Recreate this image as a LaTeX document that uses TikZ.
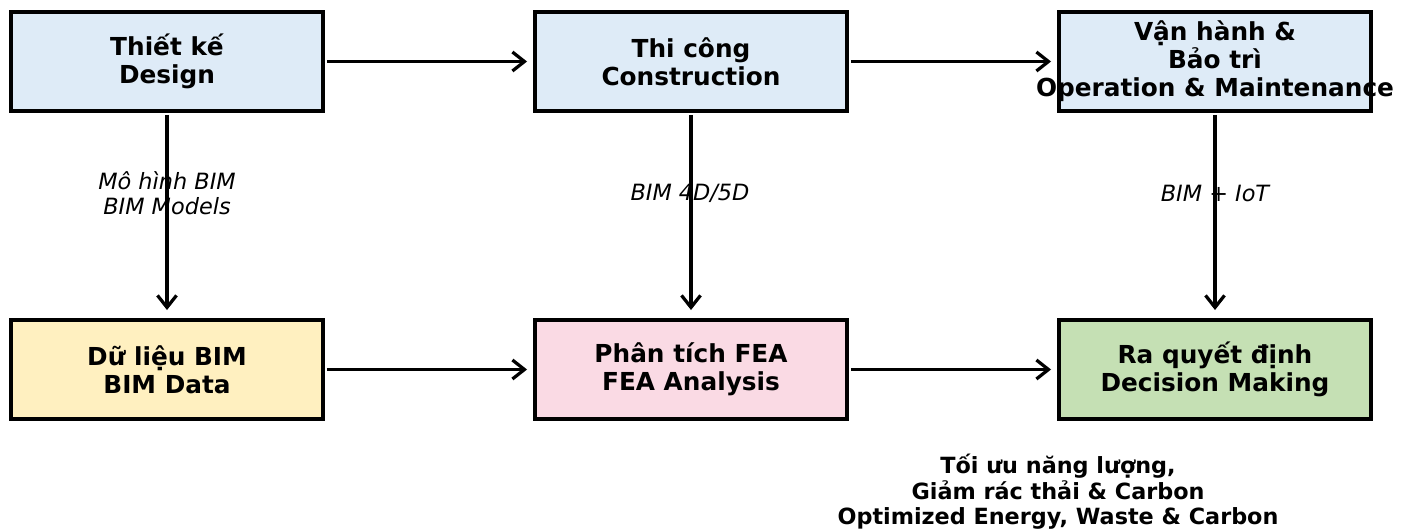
\documentclass[tikz,border=0pt]{standalone}
\usepackage{fontspec}
\setmainfont{DejaVu Sans}
\usetikzlibrary{arrows.meta}
\definecolor{cblue}{HTML}{DEEBF7}
\definecolor{cyellow}{HTML}{FFF0C0}
\definecolor{cpink}{HTML}{FADAE4}
\definecolor{cgreen}{HTML}{C5E0B4}
\tikzset{
  box/.style={draw=black, line width=0.07cm, minimum width=6.25cm, minimum height=1.99cm, inner sep=0pt},
  boxtext/.style={font=\bfseries\fontsize{14.1}{15.9}\selectfont, align=center, inner sep=0pt},
  lbl/.style={font=\itshape\fontsize{12.75}{14.2}\selectfont, align=center, inner sep=0pt},
  note/.style={font=\bfseries\fontsize{12.7}{14.5}\selectfont, align=center, inner sep=0pt},
  arr/.style={line width=0.065cm, -{Straight Barb[length=0.24cm, width=0.38cm, line width=0.065cm]}},
}
\begin{document}
\begin{tikzpicture}[x=0.02cm, y=-0.02cm]
\useasboundingbox (0,0) rectangle (1405,531);
% boxes
\node[box, fill=cblue] (design) at (167,61.5) {};
\node[box, fill=cblue] (constr) at (691,61.5) {};
\node[box, fill=cblue] (oper) at (1215,61.5) {};
\node[box, fill=cyellow] (data) at (167,369.5) {};
\node[box, fill=cpink] (fea) at (691,369.5) {};
\node[box, fill=cgreen] (dec) at (1215,369.5) {};
% box texts
\node[boxtext] (tdesign) at (design) {Thiết kế\\Design};
\node[boxtext] (tconstr) at (constr) {Thi công\\Construction};
\node[boxtext] (toper) at (oper) {Vận hành \&\\Bảo trì\\Operation \& Maintenance};
\node[boxtext] (tdata) at (data) {Dữ liệu BIM\\BIM Data};
\node[boxtext] (tfea) at (fea) {Phân tích FEA\\FEA Analysis};
\node[boxtext] (tdec) at (dec) {Ra quyết định\\Decision Making};
% edge labels (under the arrows)
\node[lbl] (l1) at (167,193) {Mô hình BIM\\BIM Models};
\node[lbl] (l2) at (690,193) {BIM 4D/5D};
\node[lbl] (l3) at (1215,193) {BIM + IoT};
% arrows
\draw[arr, shorten <=0.04cm, shorten >=0.12cm] (design.east) -- (constr.west);
\draw[arr, shorten <=0.04cm, shorten >=0.12cm] (constr.east) -- (oper.west);
\draw[arr, shorten <=0.04cm, shorten >=0.12cm] (data.east) -- (fea.west);
\draw[arr, shorten <=0.04cm, shorten >=0.12cm] (fea.east) -- (dec.west);
\draw[arr, shorten <=0.04cm, shorten >=0.16cm] (design.south) -- (data.north);
\draw[arr, shorten <=0.04cm, shorten >=0.16cm] (constr.south) -- (fea.north);
\draw[arr, shorten <=0.04cm, shorten >=0.16cm] (oper.south) -- (dec.north);
% bottom note
\node[note] (result) at (1058,492) {Tối ưu năng lượng,\\Giảm rác thải \& Carbon\\Optimized Energy, Waste \& Carbon};
\end{tikzpicture}
\end{document}
